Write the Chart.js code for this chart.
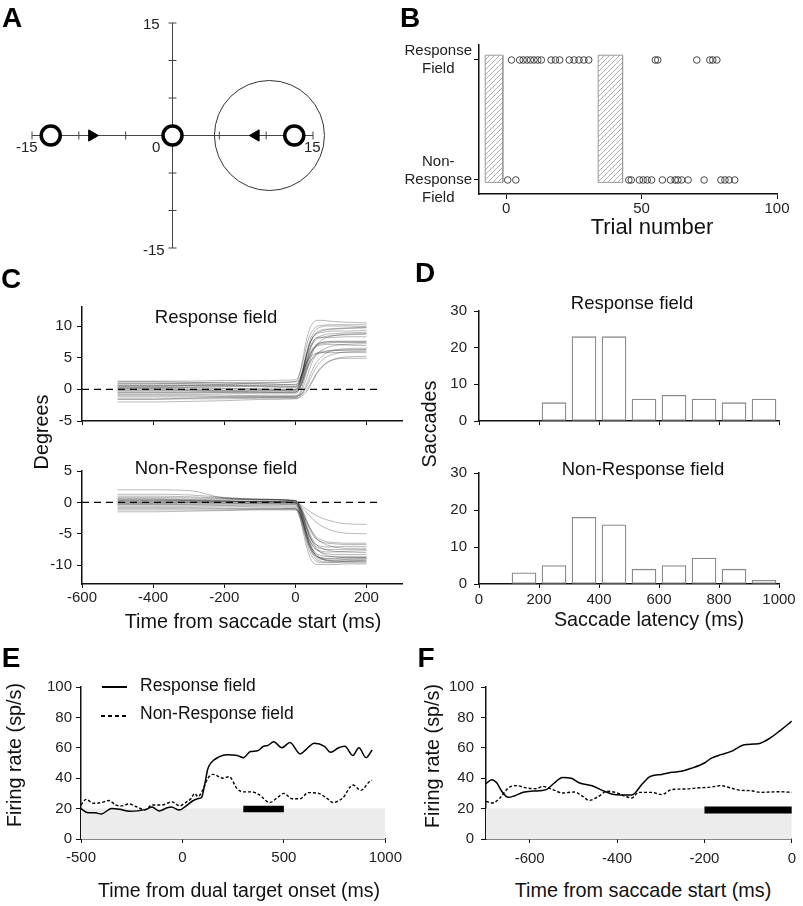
<!DOCTYPE html>
<html>
<head>
<meta charset="utf-8">
<title>Target selection figure</title>
<script src="https://cdn.jsdelivr.net/npm/chart.js"></script>
<style>
  body { margin: 0; background: #fff; }
  #fig { position: relative; width: 803px; height: 906px; overflow: hidden;
         font-family: 'Liberation Sans', Arial, sans-serif; color: #111; }
  #fig canvas { position: absolute; }
  .t { position: absolute; white-space: nowrap; line-height: 1; transform: translate(-50%, -50%); }
  .t.l { transform: translate(0, -50%); }
  .t.rot { transform: translate(-50%, -50%) rotate(-90deg); }
  .letter { font-weight: bold; font-size: 28px; color: #000; }
  .num { font-size: 15px; color: #222; }
  .sub { font-size: 18.5px; }
  .ttl { font-size: 19.8px; }
  .leg { font-size: 17.5px; }
  .sample { position: absolute; height: 2px; }
</style>
</head>
<body>
<div id="fig">
  <div class="t letter" style="left:12px;top:18px">A</div>
  <div class="t letter" style="left:410px;top:18px">B</div>
  <div class="t letter" style="left:11px;top:279px">C</div>
  <div class="t letter" style="left:425px;top:273px">D</div>
  <div class="t letter" style="left:11px;top:658px">E</div>
  <div class="t letter" style="left:426px;top:658px">F</div>

  <!-- A: axis numbers -->
  <div class="t l num" style="left:143px;top:23px">15</div>
  <div class="t l num" style="left:143px;top:249px">-15</div>
  <div class="t l num" style="left:16px;top:146px">-15</div>
  <div class="t l num" style="left:152px;top:146px">0</div>
  <div class="t l num" style="left:304px;top:146px">15</div>

  <!-- B -->
  <div class="t" style="left:652px;top:227px;font-size:22px">Trial number</div>

  <!-- C -->
  <div class="t sub" style="left:216px;top:317px">Response field</div>
  <div class="t sub" style="left:216px;top:468px">Non-Response field</div>
  <div class="t rot ttl" style="left:42px;top:432px">Degrees</div>
  <div class="t ttl" style="left:253px;top:622px">Time from saccade start (ms)</div>

  <!-- D -->
  <div class="t sub" style="left:632px;top:303px">Response field</div>
  <div class="t sub" style="left:643px;top:469px">Non-Response field</div>
  <div class="t rot ttl" style="left:430px;top:424px">Saccades</div>
  <div class="t ttl" style="left:649px;top:620px">Saccade latency (ms)</div>

  <!-- E -->
  <div class="sample" style="left:102px;top:686px;width:25px;background:#000"></div>
  <div class="t l leg" style="left:140px;top:686px">Response field</div>
  <div class="sample" style="left:101px;top:715px;width:26px;background:repeating-linear-gradient(90deg,#000 0 4px,transparent 4px 7px)"></div>
  <div class="t l leg" style="left:140px;top:714px">Non-Response field</div>
  <div class="t rot ttl" style="left:15px;top:755px">Firing rate (sp/s)</div>
  <div class="t ttl" style="left:239px;top:891px;font-size:19.5px">Time from dual target onset (ms)</div>

  <!-- F -->
  <div class="t rot ttl" style="left:433px;top:756px">Firing rate (sp/s)</div>
  <div class="t ttl" style="left:643px;top:891px">Time from saccade start (ms)</div>
</div>
<script>
// ---------------- data ----------------
// A: target positions on the horizontal meridian (deg)
const targetX = [-13, 0, 13];
const arrowX = [-8.6, 8.9];
const fieldCentreX = 10.35;
const axisTickPos = [-15, -10, -5, 5, 10, 15];

// B: trials with a saccade into each field
const rfTrials = [2, 5, 6.3, 7.7, 9, 10.3, 11.7, 13, 16.6, 18.2, 19.8, 23.3, 25.1, 26.9, 28.7, 30.5,
                  55.1, 56, 70.4, 75.2, 76.3, 77.8];
const nrfTrials = [0.6, 3.6, 45.3, 46.2, 49.2, 50.6, 52.1, 53.7, 57.7, 60.7, 62.4, 63.4, 64.8, 67.2,
                   73.1, 79.3, 80.8, 82.3, 84.4];
const hatchBlocks = [[-7.7, -1.2], [34, 43]];
const hatchSpan = [-0.02, 1.04];

// C: eye position traces (deg) sampled at eyeTime (ms from saccade start)
const eyeTime = [-500, -400, -300, -200, -100, 0, 10, 20, 30, 40, 50, 60, 75, 90, 110, 140, 200];
const rfEye = [
  [0.5, 0.5, 0.6, 0.8, 1.0, 1.2, 2.0, 4.5, 7.5, 9.5, 10.5, 10.9, 10.9, 10.8, 10.7, 10.6, 10.5],
  [1.3, 1.3, 1.3, 1.4, 1.4, 1.5, 2.2, 4.0, 6.5, 8.4, 9.4, 9.9, 10.1, 10.2, 10.2, 10.2, 10.2],
  [0.4, 0.4, 0.3, 0.2, 0.1, 0.0, 0.6, 2.5, 5.0, 7.0, 8.2, 8.8, 9.2, 9.4, 9.5, 9.6, 9.7],
  [-0.3, -0.3, -0.3, -0.4, -0.4, -0.4, 0.2, 1.8, 4.0, 6.0, 7.5, 8.2, 8.2, 8.2, 8.2, 8.3, 8.3],
  [0.7, 0.7, 0.7, 0.6, 0.5, 0.4, 1.0, 2.8, 5.2, 7.2, 8.3, 8.8, 9.0, 9.1, 9.2, 9.2, 9.3],
  [-1.0, -1.0, -1.0, -1.1, -1.1, -1.2, -0.8, 0.5, 2.5, 4.5, 6.0, 7.0, 7.8, 8.2, 8.5, 8.7, 8.8],
  [-0.5, -0.5, -0.5, -0.6, -0.7, -0.7, -0.2, 1.2, 3.2, 5.0, 6.3, 7.0, 7.4, 7.5, 7.6, 7.6, 7.6],
  [0.0, 0.0, -0.1, -0.2, -0.2, -0.1, 0.5, 2.0, 4.0, 5.6, 6.6, 7.1, 7.4, 7.5, 7.5, 7.5, 7.5],
  [1.0, 1.0, 0.9, 0.8, 0.6, 0.5, 1.0, 2.5, 4.5, 6.2, 7.3, 7.9, 8.2, 8.4, 8.5, 8.6, 8.7],
  [-1.5, -1.5, -1.4, -1.3, -1.3, -1.3, -1.0, 0.0, 1.5, 3.2, 4.6, 5.5, 6.2, 6.6, 6.9, 7.1, 7.2],
  [-2.0, -2.0, -1.9, -1.8, -1.6, -1.5, -1.3, -0.6, 0.6, 2.0, 3.3, 4.3, 5.2, 5.8, 6.2, 6.4, 6.5],
  [0.2, 0.2, 0.2, 0.1, 0.0, -0.2, 0.2, 1.3, 3.0, 4.3, 5.2, 5.7, 6.0, 6.1, 6.2, 6.2, 6.2],
  [-0.8, -0.8, -0.8, -0.9, -1.0, -1.0, -0.9, -0.5, 0.3, 1.4, 2.6, 3.6, 4.6, 5.2, 5.6, 5.9, 6.0],
  [0.9, 0.9, 1.0, 1.1, 1.1, 1.2, 1.5, 2.6, 4.0, 5.0, 5.5, 5.7, 5.8, 5.8, 5.8, 5.8, 5.8],
  [-1.2, -1.2, -1.2, -1.2, -1.2, -1.1, -1.0, -0.7, -0.2, 0.6, 1.6, 2.6, 3.6, 4.3, 4.8, 5.1, 5.2],
  [0.3, 0.3, 0.4, 0.5, 0.7, 0.8, 1.3, 2.8, 5.0, 6.5, 7.6, 8.1, 8.5, 8.7, 8.8, 8.9, 9.0],
  [-0.2, -0.2, -0.2, -0.3, -0.4, -0.5, 0.0, 1.5, 3.5, 5.2, 6.3, 6.9, 7.2, 7.3, 7.4, 7.4, 7.4],
  [0.6, 0.6, 0.6, 0.5, 0.4, 0.3, 0.8, 2.2, 4.0, 5.4, 6.3, 6.8, 7.0, 7.1, 7.1, 7.0, 6.9],
  [-0.6, -0.6, -0.6, -0.5, -0.5, -0.4, -0.1, 1.0, 2.6, 4.0, 5.0, 5.5, 5.8, 6.0, 6.1, 6.2, 6.3],
  [0.1, 0.1, 0.0, -0.1, -0.1, 0.0, 0.6, 2.5, 5.0, 7.0, 8.3, 9.0, 9.4, 9.5, 9.6, 9.7, 9.8],
  [-1.6, -1.6, -1.5, -1.5, -1.4, -1.4, -1.3, -1.0, -0.5, 0.4, 1.4, 2.4, 3.5, 4.2, 4.7, 4.9, 4.9],
  [1.2, 1.2, 1.1, 1.0, 0.9, 0.7, 1.2, 3.0, 5.5, 7.5, 8.8, 9.5, 9.9, 10.0, 10.0, 10.0, 9.9]
];
const nrfEye = [
  [2.0, 2.0, 1.9, 0.7, 0.5, 0.3, 0.0, -0.6, -1.0, -1.4, -1.8, -2.1, -2.5, -2.8, -3.1, -3.4, -3.5],
  [1.3, 1.3, 1.2, 0.8, 0.5, 0.2, -0.2, -0.9, -1.5, -2.1, -2.7, -3.2, -3.8, -4.2, -4.6, -4.9, -5.0],
  [0.6, 0.6, 0.5, 0.5, 0.4, 0.3, -0.3, -1.5, -3.0, -4.3, -5.3, -5.9, -6.3, -6.5, -6.6, -6.7, -6.7],
  [0.3, 0.3, 0.3, 0.2, 0.1, 0.0, -0.6, -2.0, -3.8, -5.3, -6.3, -6.8, -7.0, -7.1, -7.1, -7.0, -7.0],
  [0.0, 0.0, 0.0, -0.1, -0.2, -0.3, -1.0, -2.6, -4.5, -6.0, -7.0, -7.5, -7.8, -7.9, -7.9, -7.8, -7.7],
  [-0.3, -0.3, -0.3, -0.3, -0.3, -0.4, -1.2, -3.0, -5.0, -6.6, -7.6, -8.2, -8.5, -8.6, -8.6, -8.6, -8.6],
  [-0.6, -0.6, -0.6, -0.6, -0.7, -0.8, -1.6, -3.5, -5.6, -7.2, -8.2, -8.8, -9.1, -9.2, -9.2, -9.1, -9.0],
  [-1.0, -1.0, -1.0, -1.0, -1.0, -1.0, -1.8, -3.8, -6.0, -7.8, -8.9, -9.4, -9.6, -9.6, -9.6, -9.6, -9.6],
  [-1.5, -1.5, -1.4, -1.3, -1.2, -1.2, -2.0, -4.2, -6.7, -8.6, -9.6, -9.9, -9.9, -9.9, -9.9, -9.8, -9.8],
  [0.4, 0.4, 0.3, 0.2, 0.1, 0.1, -0.4, -1.7, -3.4, -4.9, -6.0, -6.8, -7.3, -7.6, -7.8, -7.9, -8.0],
  [-0.2, -0.2, -0.2, -0.2, -0.2, -0.2, -0.8, -2.3, -4.2, -5.8, -7.0, -7.6, -8.0, -8.2, -8.3, -8.3, -8.3],
  [0.8, 0.8, 0.7, 0.6, 0.4, 0.2, -0.4, -1.8, -3.6, -5.2, -6.5, -7.4, -8.1, -8.5, -8.7, -8.8, -8.8],
  [-0.8, -0.8, -0.8, -0.9, -0.9, -1.0, -1.5, -2.8, -4.6, -6.3, -7.6, -8.4, -9.0, -9.3, -9.4, -9.4, -9.4],
  [0.1, 0.1, 0.1, 0.0, 0.0, -0.1, -0.6, -2.0, -3.8, -5.4, -6.5, -7.1, -7.4, -7.5, -7.5, -7.5, -7.5],
  [-1.2, -1.2, -1.2, -1.2, -1.1, -1.1, -1.6, -3.0, -5.0, -6.8, -8.0, -8.6, -8.9, -9.0, -9.0, -9.0, -9.0],
  [0.5, 0.5, 0.4, 0.3, 0.2, 0.0, -0.5, -1.5, -2.8, -4.0, -5.0, -5.8, -6.4, -6.8, -7.1, -7.3, -7.3],
  [-0.4, -0.4, -0.4, -0.5, -0.5, -0.6, -1.3, -3.2, -5.4, -7.2, -8.4, -9.1, -9.4, -9.5, -9.5, -9.4, -9.3],
  [1.0, 1.0, 0.9, 0.7, 0.5, 0.3, -0.2, -1.2, -2.6, -3.9, -4.9, -5.6, -6.0, -6.3, -6.4, -6.5, -6.5],
  [-0.1, -0.1, 0.0, 0.1, 0.1, 0.0, -0.7, -2.4, -4.6, -6.5, -7.8, -8.6, -9.0, -9.2, -9.3, -9.3, -9.2],
  [0.2, 0.2, 0.2, 0.2, 0.1, -0.1, -0.9, -2.8, -5.0, -6.8, -7.9, -8.5, -8.8, -8.9, -8.9, -8.8, -8.8]
];
const zeroLineSpan = [-600, 232];

// D: saccade latency histograms (bin centres, ms)
const latencyBin = [150, 250, 350, 450, 550, 650, 750, 850, 950];
const rfCount = [0, 5, 23, 23, 6, 7, 6, 5, 6];
const nrfCount = [3, 5, 18, 16, 4, 5, 7, 4, 1];

// E: firing rate aligned on dual target onset
const eRfTime = [-500, -470, -430, -400, -350, -310, -260, -220, -180, -150, -115, -75, -55, -15, 20,
  50, 75, 95, 110, 125, 140, 180, 220, 270, 300, 335, 370, 400, 420, 450, 490, 530, 580, 610, 650,
  700, 730, 770, 800, 840, 870, 905, 935];
const eRfRate = [20, 17.5, 17.2, 16.5, 20, 19.5, 18.2, 18.5, 19.5, 21, 18.5, 20.5, 21, 19, 22,
  25, 26.5, 27.5, 36, 46, 50, 54, 55.5, 55, 53.5, 57.5, 58, 61, 61.5, 64, 60, 63.5, 56, 59, 63,
  61, 57, 60, 61, 55, 60, 53.5, 58.5];
const eNrfTime = [-500, -475, -440, -400, -360, -330, -296, -264, -230, -183, -150, -100, -53, -13, 10,
  44, 60, 76, 100, 125, 150, 200, 230, 270, 300, 340, 380, 430, 470, 500, 540, 580, 620, 670, 720,
  740, 790, 840, 880, 920, 935];
const eNrfRate = [22.4, 26.1, 23.5, 24, 25.3, 22.4, 21.8, 23.1, 21.4, 19.2, 22.4, 22.4, 24.4, 21.8, 23.5,
  26.8, 30, 27.9, 32.2, 39.9, 42.5, 40, 41, 33, 31, 31, 29, 24, 27.5, 30, 26.5, 26.5, 30.5, 30, 26,
  24, 27, 35.5, 32, 37.5, 38.5];
const eWindow = [300, 500];
const eWindowRate = 19.8;

// F: firing rate aligned on saccade start
const fRfTime = [-700, -687, -675, -664, -649, -634, -615, -592, -562, -545, -525, -505, -487, -457, -434,
  -411, -390, -366, -343, -325, -298, -275, -253, -230, -200, -185, -162, -140, -109, -87, -72, -49, -26, 0];
const fRfRate = [36.4, 39, 36.8, 31.4, 27.4, 28.5, 30.7, 31.5, 32.5, 36.5, 40.5, 40, 37, 35, 32,
  29.5, 29, 29, 36, 41, 42.5, 43.9, 44.5, 46.5, 50, 53, 55.5, 57.5, 62, 62.5, 63, 66.5, 71.5, 77.5];
const fNrfTime = [-700, -685, -668, -649, -630, -608, -585, -570, -547, -525, -498, -479, -464, -442, -423,
  -404, -381, -366, -351, -321, -298, -275, -245, -215, -185, -162, -140, -117, -94, -72, -49, -26, 0];
const fNrfRate = [24.8, 23.7, 27, 33.6, 35.1, 33.6, 33.1, 34.6, 32.5, 30.3, 30.9, 28.1, 25.4, 28.1, 31.4,
  30.7, 28.1, 27, 30.7, 30.7, 29.2, 32.5, 32.9, 33.6, 34.2, 35.1, 33.6, 32, 31.8, 30.7, 30.9, 31.1, 30.7];
const fWindow = [-200, 0];
const fWindowRate = 19;
const baselineRate = 20;

// ---------------- helpers ----------------
const fig = document.getElementById('fig');
const AX = '#111';
Chart.defaults.font.family = "'Liberation Sans', Arial, sans-serif";
Chart.defaults.font.size = 15;
Chart.defaults.color = '#222';

function addCanvas(left, top, width, height) {
  const cv = document.createElement('canvas');
  cv.width = width;
  cv.height = height;
  cv.style.left = left + 'px';
  cv.style.top = top + 'px';
  fig.insertBefore(cv, fig.firstChild);
  return cv;
}

// area = [left, top, right, bottom] of the plot area on the page
function plot(area, yw, xh, pad, type, datasets, scales) {
  const [l, t, r, b] = area;
  const cv = addCanvas(l - yw, t - pad[0], r - l + yw + pad[1], b - t + pad[0] + xh + pad[2]);
  return new Chart(cv, {
    type: type,
    data: { datasets: datasets },
    options: {
      responsive: false,
      animation: false,
      layout: { autoPadding: false, padding: { top: pad[0], right: pad[1], bottom: pad[2], left: 0 } },
      plugins: { legend: { display: false }, tooltip: { enabled: false } },
      scales: scales
    }
  });
}

function axis(dir, min, max, o) {
  const s = {
    type: 'linear', min: min, max: max, offset: false,
    border: { color: AX, width: 1.5 },
    grid: { drawOnChartArea: false, offset: false, tickLength: o.tick, tickColor: AX, tickWidth: 1 },
    ticks: {
      display: o.labels !== false, padding: o.pad || 0, autoSkip: false,
      maxRotation: 0, minRotation: 0, crossAlign: o.cross || 'near',
      callback: o.fmt || (v => String(v))
    },
    afterFit: function (sc) {
      if (dir === 'x') sc.height = o.size; else sc.width = o.size;
    }
  };
  if (o.step) s.ticks.stepSize = o.step;
  if (o.at) s.afterBuildTicks = function (sc) { sc.ticks = o.at.map(v => ({ value: v })); };
  return s;
}

function line(xs, ys, color, width, dash) {
  return {
    data: xs.map((x, i) => ({ x: x, y: ys[i] })),
    showLine: true, borderColor: color, borderWidth: width, borderDash: dash || [],
    pointRadius: 0, fill: false, cubicInterpolationMode: 'monotone'
  };
}

// ---------------- A: target layout ----------------
(function () {
  const cv = addCanvas(0, 0, 400, 260);
  const onAxis = xs => xs.map(x => ({ x: x, y: 0 }));
  new Chart(cv, {
    type: 'scatter',
    data: { datasets: [
      { data: onAxis(targetX), pointStyle: 'circle', pointRadius: 9.5, pointBorderWidth: 3.5,
        pointBorderColor: '#000', pointBackgroundColor: '#fff', order: 0, clip: false },
      { data: onAxis(arrowX), pointStyle: 'triangle', pointRotation: [90, -90], pointRadius: 6.5,
        pointBorderWidth: 1, pointBorderColor: '#000', pointBackgroundColor: '#000', order: 1, clip: false },
      { data: onAxis([fieldCentreX]), pointStyle: 'circle', pointRadius: 55, pointBorderWidth: 1,
        pointBorderColor: '#333', pointBackgroundColor: 'rgba(0,0,0,0)', order: 2, clip: false },
      { data: onAxis(axisTickPos), pointStyle: 'line', pointRotation: 90, pointRadius: 4,
        pointBorderWidth: 1, pointBorderColor: '#444', order: 3, clip: false },
      { data: axisTickPos.map(y => ({ x: 0, y: y })), pointStyle: 'line', pointRotation: 0, pointRadius: 4,
        pointBorderWidth: 1, pointBorderColor: '#444', order: 3, clip: false },
      { data: [{ x: -15, y: 0 }, { x: 15, y: 0 }], showLine: true, borderColor: '#444', borderWidth: 1,
        pointRadius: 0, order: 4, clip: false },
      { data: [{ x: 0, y: -15 }, { x: 0, y: 15 }], showLine: true, borderColor: '#444', borderWidth: 1,
        pointRadius: 0, order: 4, clip: false }
    ] },
    options: {
      responsive: false, animation: false,
      layout: { autoPadding: false, padding: { left: 32, right: 87, top: 23, bottom: 12 } },
      plugins: { legend: { display: false }, tooltip: { enabled: false } },
      scales: {
        x: { type: 'linear', display: false, min: -15, max: 15 },
        y: { type: 'linear', display: false, min: -15, max: 15 }
      }
    }
  });
})();

// ---------------- B: trial sequence ----------------
(function () {
  const pc = document.createElement('canvas');
  pc.width = 5; pc.height = 5;
  const g = pc.getContext('2d');
  g.strokeStyle = '#9a9a9a'; g.lineWidth = 0.8;
  g.beginPath();
  g.moveTo(0, 5); g.lineTo(5, 0);
  g.moveTo(-2.5, 2.5); g.lineTo(2.5, -2.5);
  g.moveTo(2.5, 7.5); g.lineTo(7.5, 2.5);
  g.stroke();
  const hatch = g.createPattern(pc, 'repeat');

  const sets = [
    { data: rfTrials.map(t => ({ x: t, y: 1 })), pointRadius: 3.3, pointBorderWidth: 0.9,
      pointBorderColor: '#333', pointBackgroundColor: 'rgba(0,0,0,0)', order: 0 },
    { data: nrfTrials.map(t => ({ x: t, y: 0 })), pointRadius: 3.3, pointBorderWidth: 0.9,
      pointBorderColor: '#333', pointBackgroundColor: 'rgba(0,0,0,0)', order: 0 }
  ];
  hatchBlocks.forEach(function (bk) {
    const lo = hatchSpan[0], hi = hatchSpan[1];
    sets.push({
      data: [{ x: bk[0], y: lo }, { x: bk[0], y: hi }, { x: bk[1], y: hi }, { x: bk[1], y: lo }, { x: bk[0], y: lo }],
      showLine: true, fill: 'shape', backgroundColor: hatch, borderColor: '#9a9a9a', borderWidth: 1,
      pointRadius: 0, tension: 0, order: 1
    });
  });
  plot([479, 45, 777, 194], 79, 36, [45, 26, 0], 'scatter', sets, {
    x: axis('x', -10, 100, { tick: 5, pad: 1, size: 36, at: [0, 50, 100] }),
    y: axis('y', -0.117, 1.125, { tick: 5, pad: 2, size: 79, at: [0, 1], cross: 'center',
      fmt: v => (v === 1 ? ['Response', 'Field'] : ['Non-', 'Response', 'Field']) })
  });
})();

// ---------------- C: eye traces ----------------
function eyePanel(rows, area, ymin, ymax, yticks, showLabels) {
  const sets = rows.map(r => line(eyeTime, r, 'rgba(0,0,0,0.4)', 0.7));
  const zero = line(zeroLineSpan, [0, 0], '#000', 1.2, [7, 5]);
  zero.cubicInterpolationMode = 'default';
  sets.push(zero);
  const xh = showLabels ? 25 : 10;
  plot(area, 82, xh, [25, 6, showLabels ? 6 : 8], 'scatter', sets, {
    x: axis('x', -600, 300, { tick: 4, pad: 1, size: xh, labels: showLabels, at: [-600, -400, -200, 0, 200] }),
    y: axis('y', ymin, ymax, { tick: 5, pad: 5, size: 82, at: yticks })
  });
}
eyePanel(rfEye, [82, 307, 402, 421], -5, 13, [-5, 0, 5, 10], false);
eyePanel(nrfEye, [82, 471, 402, 584], -13, 5, [-10, -5, 0, 5], true);

// ---------------- D: latency histograms ----------------
function histPanel(counts, area, showLabels) {
  const xh = showLabels ? 25 : 10;
  plot(area, 79, xh, [25, 20, showLabels ? 6 : 8], 'bar', [{
    data: latencyBin.map((x, i) => ({ x: x, y: counts[i] })),
    backgroundColor: '#fff', borderColor: '#8a8a8a', borderWidth: 1.3,
    borderSkipped: false, barThickness: 24
  }], {
    x: axis('x', 0, 1000, { tick: 4, pad: 3, size: xh, labels: showLabels, step: 200 }),
    y: axis('y', 0, 30, { tick: 5, pad: 7, size: 79, step: 10 })
  });
}
histPanel(rfCount, [479, 311, 779, 421], false);
histPanel(nrfCount, [479, 473, 779, 584], true);

// ---------------- E / F: firing rate ----------------
function ratePanel(area, yw, padRight, xmin, xmax, xOpts, rf, nrf, win, winRate, barWidth) {
  const solid = line(rf[0], rf[1], '#000', 1.5);
  solid.order = 0;
  const dashed = line(nrf[0], nrf[1], '#000', 1.4, [3, 2]);
  dashed.order = 1;
  const bar = line(win, [winRate, winRate], '#000', barWidth);
  bar.borderCapStyle = 'butt';
  bar.order = 2;
  const band = line([xmin, xmax], [baselineRate, baselineRate], 'rgba(0,0,0,0)', 0);
  band.fill = 'origin';
  band.backgroundColor = '#ececec';
  band.order = 3;
  xOpts.size = 25;
  xOpts.tick = 4;
  plot(area, yw, 25, [25, padRight, 10], 'scatter', [solid, dashed, bar, band], {
    x: axis('x', xmin, xmax, xOpts),
    y: axis('y', 0, 100, { tick: 5, pad: yw === 81 ? 4 : 7, size: yw, step: 20 })
  });
}
ratePanel([81, 687, 390, 839], 81, 18, -500, 1000, { pad: 6, step: 500 },
  [eRfTime, eRfRate], [eNrfTime, eNrfRate], eWindow, eWindowRate, 6.5);
ratePanel([486, 687, 795, 839], 86, 8, -700, 0, { pad: 7, at: [-600, -400, -200, 0] },
  [fRfTime, fRfRate], [fNrfTime, fNrfRate], fWindow, fWindowRate, 7);
</script>
</body>
</html>
